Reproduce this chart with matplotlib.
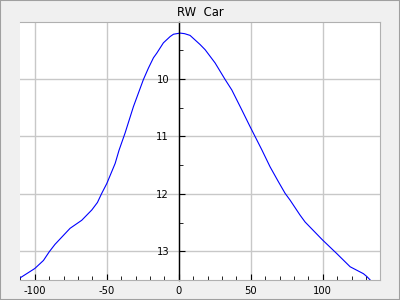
import matplotlib.pyplot as plt
from matplotlib.ticker import MultipleLocator
from matplotlib.patches import Rectangle

plt.rcParams['axes.unicode_minus'] = False

# curve
car_x = [-110, -100, -94, -90, -86, -75.5, -67.4, -60.4, -56.5, -53.5, -50,
         -44.2, -41.5, -37.3, -31.5, -24.6, -21.1, -17.6, -15.3, -10.7, -6,
         -3.7, 0.9, 4, 7.8, 11.3, 14.8, 18.3, 25.2, 32.2, 36.8, 43.8, 49.5,
         57.6, 63.4, 69.2, 73.8, 77.3, 84.2, 87.7, 99.7, 109.7, 119, 128.2,
         130.6, 133.3]
car_y = [13.46, 13.30, 13.16, 13.01, 12.88, 12.60, 12.46, 12.28, 12.15, 11.99,
         11.82, 11.47, 11.24, 10.94, 10.48, 10.01, 9.81, 9.63, 9.55, 9.37,
         9.26, 9.22, 9.20, 9.21, 9.24, 9.32, 9.40, 9.49, 9.72, 10.01, 10.19,
         10.54, 10.83, 11.23, 11.53, 11.79, 11.99, 12.11, 12.37, 12.49, 12.80,
         13.04, 13.27, 13.39, 13.44, 13.51]
x_ticks = [-100, -50, 0, 50, 100]
y_ticks = [10, 11, 12, 13]

fig = plt.figure(figsize=(4, 3), dpi=100, facecolor='#f0f0f0')
fig.patches.append(Rectangle((0, 0), 1, 1, transform=fig.transFigure,
                             fill=False, edgecolor='#a0a0a0', linewidth=1.5))
ax = fig.add_axes([0.051, 0.0667, 0.9, 0.8613])
ax.set_facecolor('white')

ax.plot(car_x, car_y, color='#0000ff', linewidth=0.8)

ax.set_xlim(-110, 140)
ax.set_ylim(13.5, 9.0)
ax.set_xticks(x_ticks)
ax.set_yticks(y_ticks)
ax.xaxis.set_minor_locator(MultipleLocator(10))
ax.yaxis.set_minor_locator(MultipleLocator(0.5))
ax.grid(True, which='major', color='#c8c8c8', linewidth=1.0)
ax.set_axisbelow(True)

for s in ax.spines.values():
    s.set_edgecolor('#b0b0b0')
ax.spines['left'].set_position(('data', 0))
ax.spines['left'].set_edgecolor('black')
ax.spines['left'].set_linewidth(1.0)

ax.tick_params(which='both', direction='in', color='black', labelsize=7.2,
               labelcolor='black')
ax.tick_params(which='major', length=4)
ax.tick_params(which='minor', length=3)
ax.tick_params(axis='y', pad=7)
ax.tick_params(axis='x', pad=4)

fig.text(0.5, 0.96, 'RW  Car', ha='center', va='center', fontsize=8.4)

fig.savefig('out.png', dpi=100, facecolor=fig.get_facecolor())
